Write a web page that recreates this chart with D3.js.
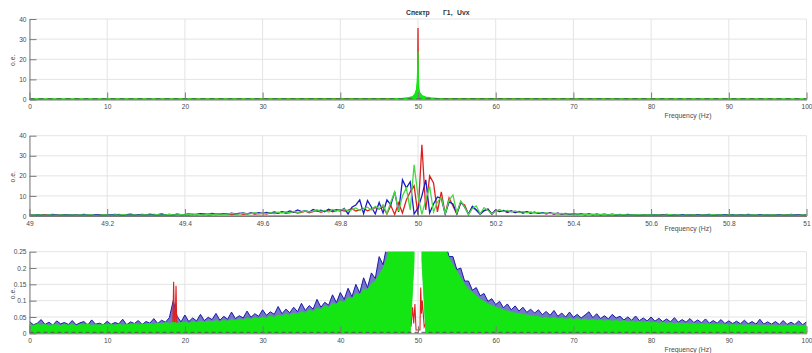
<!DOCTYPE html>
<html><head><meta charset="utf-8">
<script src="https://cdn.jsdelivr.net/npm/d3@7"></script>
<style>body{margin:0;background:#fff}svg{display:block;font-family:"Liberation Sans",Arial,sans-serif}</style>
</head><body><svg id="c" width="812" height="353"></svg>
<script>
// ---------- text ----------
const titleParts = ["Спектр", "Г1,", "Uvx"];
const xLabelText = "Frequency (Hz)";
const yLabelText = "o.e.";

// ---------- panel 1 : 0..100 Hz, full scale ----------
const p1XTicks = [0,10,20,30,40,50,60,70,80,90,100];
const p1YTicks = [0,10,20,30,40];
const p1Red = [[0,0.1],[49.8,0.5],[49.95,5],[50,35.5],[50.05,5],[50.2,0.5],[100,0.1]];
const p1Green = [[0,0.3],[46.5,0.3],[47.3,0.5],[48,0.6],[48.8,0.9],[49.3,1.4],[49.6,2.6],[49.8,5],[49.9,9],[49.95,14],[50,24],[50.05,11],[50.1,6],[50.2,3.5],[50.5,2],[51,1.2],[51.7,0.8],[52.6,0.5],[53.5,0.3],[100,0.3]];
const p1Base = [[0,0.35],[100,0.35]];

// ---------- panel 2 : 49..51 Hz, step 0.01 ----------
const p2Start = 49, p2Step = 0.01;
const p2XTicks = [49,49.2,49.4,49.6,49.8,50,50.2,50.4,50.6,50.8,51];
const p2YTicks = [0,10,20,30,40];
const p2Red = [
0.4,0.6,0.3,0.5,0.7,0.4,0.3,0.6,0.5,0.4,
0.5,0.3,0.6,0.4,0.5,0.7,0.3,0.4,0.6,0.5,
0.6,0.4,0.5,0.8,0.4,0.6,0.5,0.3,0.7,0.5,
0.4,0.6,0.8,0.5,0.4,0.7,0.6,0.5,0.8,0.6,
0.7,0.5,0.9,0.6,0.8,1.0,0.6,0.7,1.1,0.8,
0.9,1.2,0.7,1.0,1.3,0.8,1.1,1.4,0.9,1.2,
1.3,1.0,1.6,1.2,1.5,1.9,1.3,1.7,2.1,1.4,
1.8,2.4,1.6,2.2,2.8,1.9,2.5,3.0,2.1,2.7,
3.2,2.4,2.9,3.6,2.5,3.1,3.8,2.6,3.4,4.2,
3.5,4.6,1.0,5.2,0.8,6.5,1.5,8.0,12.0,15.0,
0.5,35.5,3.0,20.0,16.5,2.0,12.0,1.0,9.0,5.0,
1.0,6.5,5.5,0.8,4.5,3.0,1.2,2.6,3.4,0.9,
3.0,2.2,2.7,1.9,2.5,1.7,2.2,1.6,2.0,1.4,
1.8,1.3,1.6,1.1,1.5,1.0,1.3,0.9,1.2,0.8,
1.1,0.7,1.0,0.6,0.9,0.7,0.8,0.5,0.9,0.6,
0.7,0.5,0.8,0.4,0.6,0.7,0.5,0.4,0.6,0.5,
0.6,0.4,0.5,0.7,0.4,0.5,0.6,0.3,0.5,0.4,
0.5,0.6,0.4,0.5,0.3,0.6,0.4,0.5,0.7,0.4,
0.5,0.3,0.6,0.4,0.5,0.4,0.6,0.3,0.5,0.4,
0.4,0.6,0.3,0.5,0.4,0.6,0.5,0.3,0.5,0.4,0.5];
const p2Green = [
0.3,0.5,0.4,0.6,0.3,0.5,0.4,0.3,0.6,0.4,
0.4,0.6,0.3,0.5,0.4,0.6,0.5,0.3,0.4,0.6,
0.5,0.3,0.6,0.4,0.7,0.5,0.4,0.6,0.3,0.5,
0.6,0.4,0.5,0.7,0.4,0.6,0.8,0.5,0.6,0.7,
0.5,0.8,0.6,0.9,0.7,0.6,1.0,0.8,0.7,1.1,
0.8,1.0,1.3,0.9,1.1,1.4,1.0,1.2,1.6,1.1,
1.4,1.2,1.7,1.3,1.9,1.5,2.0,1.6,2.3,1.8,
2.1,2.6,1.9,2.4,3.1,2.2,2.8,2.0,3.3,2.5,
2.9,3.5,2.3,3.2,4.0,2.7,3.6,4.4,3.0,4.8,
3.6,5.5,1.2,7.0,12.0,2.5,10.0,14.0,3.0,25.5,
10.0,0.8,8.0,14.7,2.0,7.0,9.5,1.0,8.0,10.5,
1.5,7.5,4.5,0.8,3.8,5.0,1.0,4.2,2.8,1.0,
2.5,3.2,2.2,2.8,2.0,2.5,1.8,2.2,1.6,2.0,
1.5,1.8,1.3,1.6,1.2,1.4,1.0,1.3,0.9,1.2,
0.9,1.1,0.8,1.0,0.7,0.9,0.6,0.8,0.7,0.5,
0.8,0.6,0.5,0.7,0.4,0.6,0.5,0.7,0.4,0.6,
0.5,0.4,0.6,0.3,0.5,0.7,0.4,0.5,0.3,0.6,
0.4,0.5,0.3,0.6,0.4,0.5,0.7,0.4,0.5,0.3,
0.6,0.4,0.5,0.3,0.6,0.4,0.5,0.6,0.3,0.5,
0.4,0.5,0.6,0.3,0.5,0.4,0.6,0.4,0.3,0.5,0.4];
const p2Blue = [
0.6,0.4,0.7,0.5,0.3,0.6,0.8,0.4,0.5,0.7,
0.5,0.7,0.4,0.6,0.8,0.5,0.4,0.7,0.5,0.6,
0.7,0.5,0.8,0.6,0.4,0.7,0.9,0.5,0.6,0.8,
0.6,0.9,0.5,0.7,1.0,0.6,0.8,0.5,0.9,0.7,
0.8,1.1,0.7,0.9,1.2,0.8,1.0,1.3,0.7,1.1,
1.2,0.9,1.4,1.0,1.3,1.6,1.1,1.5,1.2,1.7,
1.3,1.8,1.4,2.0,1.5,2.2,1.7,2.5,1.9,3.0,
2.2,2.7,2.0,3.2,2.4,2.9,2.1,3.4,2.6,3.1,
2.5,3.8,1.0,4.4,5.5,8.0,1.2,7.7,4.5,1.0,
6.7,1.5,8.0,5.5,12.0,2.0,18.0,14.0,17.0,1.0,
4.0,10.0,18.0,1.5,6.0,9.5,8.8,1.0,7.0,6.0,
1.2,7.0,4.5,1.0,4.8,3.0,0.8,2.7,3.5,1.0,
3.0,2.2,2.8,1.9,2.5,1.7,2.3,1.5,2.1,1.4,
1.9,1.3,1.7,1.2,1.5,1.1,1.4,0.9,1.3,0.8,
1.2,0.8,1.1,0.7,1.0,0.6,0.9,0.7,0.8,0.6,
0.9,0.5,0.7,0.6,0.8,0.5,0.6,0.7,0.4,0.6,
0.7,0.5,0.6,0.4,0.8,0.5,0.6,0.4,0.7,0.5,
0.6,0.4,0.7,0.5,0.6,0.8,0.4,0.6,0.5,0.7,
0.5,0.7,0.4,0.6,0.5,0.8,0.6,0.4,0.7,0.5,
0.6,0.4,0.7,0.5,0.6,0.4,0.8,0.5,0.6,0.4,0.7];
const p2Base = [[49,0.05],[51,0.05]];

// ---------- panel 3 : 0..100 Hz, zoom on floor, step 0.5 ----------
const p3Start = 0, p3Step = 0.5;
const p3XTicks = [0,10,20,30,40,50,60,70,80,90,100];
const p3YTicks = [0,0.05,0.1,0.15,0.2,0.25];
const p3Blue = [
.036,.026,.031,.042,.027,.034,.025,.038,.029,.033,
.027,.039,.026,.032,.036,.025,.041,.028,.031,.026,
.037,.027,.033,.029,.043,.026,.035,.030,.039,.027,
.036,.031,.045,.030,.040,.034,.048,.100,.052,.035,
.056,.036,.047,.038,.058,.039,.049,.042,.061,.040,
.052,.043,.065,.045,.054,.047,.068,.049,.060,.052,
.072,.055,.066,.058,.082,.060,.074,.063,.080,.066,
.092,.070,.085,.074,.104,.080,.095,.086,.118,.094,
.125,.104,.138,.112,.150,.124,.170,.140,.185,.168,
.235,.210,.270,.300,.340,.400,.500,.650,.900,1.50,
null,
1.50,.900,.650,.480,.380,.310,.280,.235,.235,.195,
.200,.160,.160,.132,.140,.115,.122,.098,.106,.088,
.098,.078,.090,.072,.084,.068,.080,.064,.074,.062,
.072,.057,.067,.055,.070,.052,.062,.050,.065,.049,
.058,.047,.056,.066,.048,.060,.045,.054,.044,.058,
.047,.052,.041,.050,.040,.053,.039,.047,.038,.050,
.037,.046,.036,.044,.035,.048,.034,.042,.034,.045,
.033,.041,.032,.044,.031,.039,.031,.042,.030,.038,
.030,.037,.029,.040,.029,.036,.028,.043,.028,.035,
.028,.036,.027,.039,.027,.034,.027,.038,.026,.035];
const p3Green = [
.027,.024,.029,.025,.028,.023,.027,.026,.024,.028,
.025,.028,.023,.027,.026,.029,.024,.027,.025,.028,
.026,.028,.024,.029,.025,.028,.027,.030,.026,.029,
.028,.031,.027,.032,.029,.033,.030,.034,.031,.033,
.034,.031,.036,.033,.037,.034,.038,.035,.039,.036,
.040,.037,.042,.039,.044,.041,.046,.043,.048,.045,
.050,.047,.053,.049,.056,.052,.059,.055,.062,.058,
.066,.062,.071,.067,.077,.073,.084,.080,.092,.088,
.100,.096,.110,.106,.122,.118,.136,.132,.152,.160,
.180,.200,.230,.280,.350,.450,.600,.900,1.20,1.50,
null,
1.50,1.20,.900,.600,.420,.320,.260,.230,.210,.190,
.170,.150,.135,.125,.115,.105,.098,.090,.085,.080,
.076,.072,.068,.065,.062,.060,.058,.056,.054,.052,
.052,.047,.050,.045,.049,.044,.047,.043,.046,.042,
.045,.041,.044,.040,.043,.039,.042,.038,.041,.037,
.040,.036,.039,.035,.038,.034,.037,.033,.036,.032,
.035,.031,.034,.030,.033,.029,.032,.029,.031,.028,
.031,.027,.030,.027,.029,.026,.029,.026,.028,.025,
.028,.025,.027,.024,.027,.024,.026,.024,.026,.023,
.026,.023,.025,.022,.025,.023,.026,.022,.025,.023];
const p3Floor = [[49,0],[49.5,0.22],[50.5,0.22],[51,0]];
const p3Red = [[0,0.004],[18.2,0.01],[18.45,0.03],[18.55,0.158],[18.65,0.03],[18.75,0.04],[18.86,0.146],[18.95,0.03],[19.2,0.01],
  [48.6,0.01],[48.9,0.05],[49.1,0.02],[49.3,0.08],[49.45,0.03],[49.6,0.09],[49.75,0.01],[50.25,0.01],[50.35,0.14],[50.45,0.06],[50.55,0.1],[50.8,0.02],[51.2,0.04],[51.6,0.01],[100,0.004]];
const p3Base = [[0,0.003],[100,0.003]];

// ---------- checks ----------
[p2Red,p2Green,p2Blue,p3Blue,p3Green].forEach((a,i)=>{ if(a.length!==201) throw new Error("length "+i+" = "+a.length); });

// ---------- styles ----------
const C = {red:"#e01e1e", green:"#14e614", green2:"#45d845", blue:"#1c1cc4", blue3:"#1a1aa8", base:"#555555",
           grid:"#e4e4e4", axis:"#7a7a7a", text:"#4a4a4a"};
const X0 = 29.5, X1 = 806.5;
const svg = d3.select("#c");

function panel(cfg){
  const x = d3.scaleLinear().domain(cfg.xDomain).range([X0, X1]);
  const y = d3.scaleLinear().domain(cfg.yDomain).range([cfg.bottom, cfg.top]);
  const g = svg.append("g");
  g.append("g").selectAll("line").data(cfg.xTicks).join("line")
    .attr("x1", d=>x(d)).attr("x2", d=>x(d)).attr("y1", cfg.top).attr("y2", cfg.bottom)
    .attr("stroke", C.grid).attr("stroke-width", 1);
  g.append("g").selectAll("line").data(cfg.yTicks).join("line")
    .attr("x1", X0).attr("x2", X1).attr("y1", d=>y(d)).attr("y2", d=>y(d))
    .attr("stroke", C.grid).attr("stroke-width", 1);
  const id = "clip" + cfg.name;
  svg.append("clipPath").attr("id", id).append("rect")
    .attr("x", X0).attr("y", cfg.top).attr("width", X1 - X0).attr("height", cfg.bottom - cfg.top);
  const plot = g.append("g").attr("clip-path", `url(#${id})`);
  cfg.draw(plot, x, y);
  const ax = d3.axisBottom(x).tickValues(cfg.xTicks).tickSizeInner(-7).tickSizeOuter(0).tickPadding(5)
    .tickFormat(cfg.xFmt);
  const gx = g.append("g").attr("transform", `translate(0,${cfg.bottom})`).call(ax);
  const ay = d3.axisLeft(y).tickValues(cfg.yTicks).tickSizeInner(-7).tickSizeOuter(0).tickPadding(3)
    .tickFormat(cfg.yFmt);
  const gy = g.append("g").attr("transform", `translate(${X0},0)`).call(ay);
  [gx, gy].forEach(a=>{
    a.select(".domain").attr("stroke", C.axis);
    a.selectAll(".tick line").attr("stroke", C.axis);
    a.selectAll(".tick text").attr("fill", C.text).style("font-size", "6.6px")
      .style("font-family", '"Liberation Sans", Arial, sans-serif');
  });
  g.append("text").attr("x", 688).attr("y", cfg.bottom + cfg.xLabelDy).attr("text-anchor", "middle")
    .attr("fill", C.text).style("font-size", "6.8px").text(xLabelText);
  g.append("text").attr("transform", `translate(14.5,${(cfg.top + cfg.bottom)/2 + 1}) rotate(-90)`)
    .attr("text-anchor", "middle").attr("fill", C.text).style("font-size", "6.8px").text(yLabelText);
}

const fmt = d => String(+d.toFixed(2));
const pairLine = (x, y) => d3.line().x(d=>x(d[0])).y(d=>y(d[1]));

// ---------- panel 1 ----------
panel({name:"1", xDomain:[0,100], yDomain:[0,40], top:19, bottom:99.5, xTicks:p1XTicks, yTicks:p1YTicks,
  xFmt:fmt, yFmt:fmt, xLabelDy:18.8,
  draw:(p, x, y)=>{
    p.append("path").datum(p1Red).attr("d", pairLine(x,y)).attr("fill","none").attr("stroke",C.red).attr("stroke-width",1.3);
    p.append("path").datum(p1Green)
      .attr("d", d3.area().x(d=>x(d[0])).y0(y(0)).y1(d=>y(d[1])))
      .attr("fill", C.green).attr("stroke", C.green).attr("stroke-width", 1.2);
    p.append("path").datum(p1Base).attr("d", pairLine(x,y)).attr("fill","none")
      .attr("stroke", "#3a6a4a").attr("stroke-width", 1.2).attr("stroke-dasharray", "5,4");
  }});

// ---------- panel 2 ----------
const p2pts = arr => arr.map((v,i)=>[p2Start + i*p2Step, v]);
panel({name:"2", xDomain:[49,51], yDomain:[0,40], top:135.7, bottom:216, xTicks:p2XTicks, yTicks:p2YTicks,
  xFmt:fmt, yFmt:fmt, xLabelDy:14.6,
  draw:(p, x, y)=>{
    p.append("path").datum(p2pts(p2Red)).attr("d", pairLine(x,y)).attr("fill","none").attr("stroke",C.red).attr("stroke-width",1.3);
    p.append("path").datum(p2pts(p2Blue)).attr("d", pairLine(x,y)).attr("fill","none").attr("stroke",C.blue).attr("stroke-width",1.3);
    p.append("path").datum(p2pts(p2Green)).attr("d", pairLine(x,y)).attr("fill","none").attr("stroke",C.green2).attr("stroke-width",1.3);
    p.append("path").datum(p2Base).attr("d", pairLine(x,y)).attr("fill","none").attr("stroke", C.base).attr("stroke-width", 0.8);
  }});

// ---------- panel 3 ----------
const floorMap = new Map(p3Floor.map(d=>[d[0].toFixed(2), d[1]]));
const p3pts = arr => arr.map((v,i)=>{ const f = p3Start + i*p3Step; return {f, v, lo: floorMap.get(f.toFixed(2)) || 0}; });
panel({name:"3", xDomain:[0,100], yDomain:[0,0.25], top:251.7, bottom:333.3, xTicks:p3XTicks, yTicks:p3YTicks,
  xFmt:fmt, yFmt:fmt, xLabelDy:18.2,
  draw:(p, x, y)=>{
    const ar = d3.area().defined(d=>d.v!=null).x(d=>x(d.f)).y0(d=>y(d.lo)).y1(d=>y(d.v));
    const ln = d3.line().defined(d=>d.v!=null).x(d=>x(d.f)).y(d=>y(d.v));
    const bl = p3pts(p3Blue);
    p.append("path").datum(bl).attr("d", ar).attr("fill", C.blue3).attr("fill-opacity", 0.6).attr("stroke", "none");
    p.append("path").datum(bl).attr("d", ln).attr("fill", "none").attr("stroke", C.blue3).attr("stroke-width", 1);
    p.append("path").datum(p3Red).attr("d", pairLine(x,y)).attr("fill","none").attr("stroke",C.red).attr("stroke-width",1.1);
    p.append("path").datum(p3pts(p3Green)).attr("d", ar).attr("fill", C.green).attr("stroke", C.green).attr("stroke-width", 0.7);
    p.append("path").datum(p3Base).attr("d", pairLine(x,y)).attr("fill","none")
      .attr("stroke", C.base).attr("stroke-width", 1).attr("stroke-dasharray", "4,3");
  }});

// ---------- title ----------
const titleX = [406, 443, 457];
svg.append("text").attr("y", 15).style("font-size", "6.8px").style("font-weight", "bold").attr("fill", "#333")
  .selectAll("tspan").data(titleParts).join("tspan").attr("x", (d,i)=>titleX[i]).text(d=>d);
</script></body></html>
